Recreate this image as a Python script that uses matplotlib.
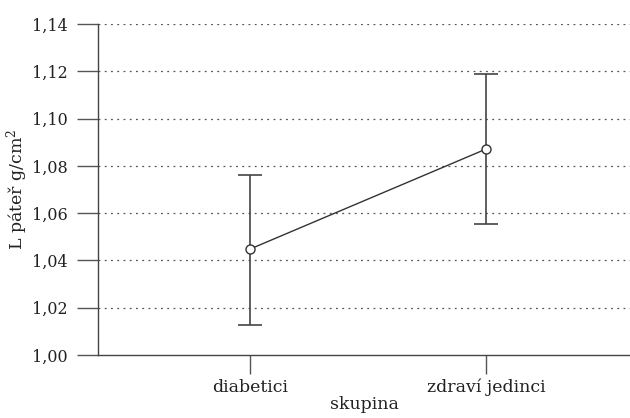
import numpy as np
import matplotlib.pyplot as plt

# group means with error bar limits
groups = ['diabetici', 'zdraví jedinci']
means = [1.0448, 1.0871]
lower = [1.0127, 1.0554]
upper = [1.0763, 1.1189]
yticks = [1.00, 1.02, 1.04, 1.06, 1.08, 1.10, 1.12, 1.14]

plt.rcParams['font.family'] = ['DejaVu Serif']
plt.rcParams['mathtext.fontset'] = 'dejavuserif'
plt.rcParams['font.size'] = 12

fig = plt.figure(figsize=(6.30, 4.18), dpi=100)
ax = fig.add_axes([98/630, 63/418, 532/630, 331/418])

x = np.arange(len(groups))
m = np.array(means)
err = [m - np.array(lower), np.array(upper) - m]

ax.errorbar(x, m, yerr=err, fmt='none', ecolor='#444444', elinewidth=1.2,
            capsize=8.6, capthick=1.2, zorder=3)
ax.plot(x, m, color='#333333', lw=1.0, marker='o', ms=6.5, mfc='white',
        mec='#333333', mew=1.0, zorder=4)

ax.set_xlim(-0.644, 1.61)
ax.set_ylim(1.00, 1.14)
ax.set_yticks(yticks)
ax.set_yticklabels([('%.2f' % v).replace('.', ',') for v in yticks])
ax.set_xticks(x)
ax.set_xticklabels(groups)

for v in yticks[1:]:
    ax.axhline(v, color='#555555', lw=0.9, ls=(0, (1.5, 3.5)), zorder=1)

for s in ['top', 'right']:
    ax.spines[s].set_visible(False)
for s in ['left', 'bottom']:
    ax.spines[s].set_color('#444444')
    ax.spines[s].set_linewidth(1.0)

ax.tick_params(axis='both', length=15, width=1.0, color='#555555',
               labelcolor='#222222')
ax.tick_params(axis='y', labelsize=11.5, pad=7)
ax.tick_params(axis='x', length=14, pad=3, labelsize=12.5)

ax.set_xlabel('skupina', fontsize=12.5, color='#222222', labelpad=0)
ax.set_ylabel('L páteř g/cm$^2$', fontsize=12.5, color='#222222')
ax.yaxis.set_label_coords(-0.128, 0.5)

fig.savefig('out.png', dpi=100)
